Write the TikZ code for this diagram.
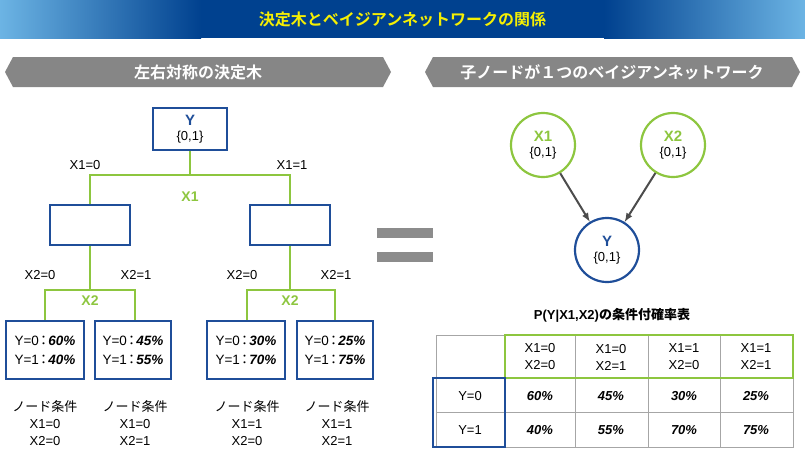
\documentclass[tikz,border=0pt]{standalone}
\usepackage{fontspec}
\setmainfont{Liberation Sans}
\newfontfamily\jp{Noto Sans CJK JP}
\newfontfamily\jpb{Noto Sans CJK JP Bold}
\begin{document}
\begin{tikzpicture}[x=1pt,y=-1pt,
  lab/.style={font=\fontsize{13}{15}\selectfont,inner sep=1pt},
  leaf/.style={bl,minimum width=78pt,minimum height=58pt,align=left,inner sep=2pt,font=\fontsize{13.5}{19}\selectfont},
  cond/.style={align=center,font=\fontsize{13}{17}\selectfont},
  circ/.style={circle,minimum size=64pt,line width=2.2pt,fill=white,align=center,inner sep=0pt,font=\fontsize{13}{15}\selectfont},
  arr/.style={-latex,line width=2pt,draw=black!70},
  cell/.style={align=center,font=\fontsize{13}{17}\selectfont}
]
\definecolor{lgreen}{HTML}{8DC63F}
\definecolor{dblue}{HTML}{1F4E99}
\definecolor{navy}{HTML}{00418F}
\definecolor{sky}{HTML}{6CB4E4}
\tikzset{bl/.style={draw=dblue,line width=2pt},gl/.style={draw=lgreen,line width=2.2pt}}
\useasboundingbox (0,0) rectangle (805,461);
% title
\fill[navy] (150,0) rectangle (655,38);
\shade[left color=sky,right color=navy] (0,0) rectangle (201,38);
\shade[left color=navy,right color=sky] (604,0) rectangle (805,38);
\node[font=\jpb\fontsize{16}{18}\selectfont,text=yellow!85!lime] (title) at (402.5,19) {決定木とベイジアンネットワークの関係};
% section banners
\fill[gray!95] (5,72) -- (13,57) -- (383,57) -- (391,72) -- (383,87) -- (13,87) -- cycle;
\fill[gray!95] (425,72) -- (433,57) -- (792,57) -- (800,72) -- (792,87) -- (433,87) -- cycle;
\node[font=\jpb\fontsize{16}{18}\selectfont,text=white] (s1) at (198,72) {左右対称の決定木};
\node[font=\jpb\fontsize{16}{18}\selectfont,text=white] (s2) at (612,72) {子ノードが１つのベイジアンネットワーク};
% tree lines
\coordinate (t1) at (190,175); \coordinate (t1l) at (90,175); \coordinate (t1r) at (290,175);
\draw[gl] (190,150) -- (t1);
\draw[gl] (t1l |- 0,205) -- (t1l) -- (t1r) -- (t1r |- 0,205);
\draw[gl] (90,245) -- (90,290); \draw[gl] (45,320) -- (45,290) -- (135,290) -- (135,320);
\draw[gl] (290,245) -- (290,290); \draw[gl] (247,320) -- (247,290) -- (335,290) -- (335,320);
\node[bl,minimum width=74pt,minimum height=42pt,align=center,font=\fontsize{13}{15}\selectfont,inner sep=0pt,fill=white] (Y) at (190,129) {\textcolor{dblue}{\textbf{\fontsize{15}{16}\selectfont Y}}\\\{0,1\}};
\node[bl,minimum width=80pt,minimum height=40pt,fill=white] (A) at (90,225) {};
\node[bl,minimum width=80pt,minimum height=40pt,fill=white] (B) at (290,225) {};
\node[lab] (l1) at (85,165) {X1=0};
\node[lab] (l2) at (292,165) {X1=1};
\node[lab,font=\bfseries\fontsize{14}{15}\selectfont,text=lgreen] (l3) at (190,197) {X1};
\node[lab] (l4) at (40,275) {X2=0};
\node[lab] (l5) at (136,275) {X2=1};
\node[lab,font=\bfseries\fontsize{14}{15}\selectfont,text=lgreen] (l6) at (90,301) {X2};
\node[lab] (l7) at (242,275) {X2=0};
\node[lab] (l8) at (336,275) {X2=1};
\node[lab,font=\bfseries\fontsize{14}{15}\selectfont,text=lgreen] (l9) at (290,301) {X2};
\newcommand\lf[2]{Y=0{\jp\kern-2pt：\kern-2pt}\textbf{\textit{#1\%}}\\Y=1{\jp\kern-2pt：\kern-2pt}\textbf{\textit{#2\%}}}
\node[leaf,fill=white] (L1) at (45,350) {\lf{60}{40}};
\node[leaf,fill=white,minimum width=76pt] (L2) at (133,350) {\lf{45}{55}};
\node[leaf,fill=white] (L3) at (246,350) {\lf{30}{70}};
\node[leaf,fill=white,minimum width=76pt] (L4) at (335,350) {\lf{25}{75}};
\node[cond] (c1) at (45,423) {{\jp ノード条件}\\X1=0\\X2=0};
\node[cond] (c2) at (135,423) {{\jp ノード条件}\\X1=0\\X2=1};
\node[cond] (c3) at (247,423) {{\jp ノード条件}\\X1=1\\X2=0};
\node[cond] (c4) at (337,423) {{\jp ノード条件}\\X1=1\\X2=1};
% equals
\fill[gray!90] (377,228) rectangle (433,238);
\fill[gray!90] (377,252) rectangle (433,262);
% BN
\node[circ,draw=lgreen] (X1) at (543,145) {\textcolor{lgreen}{\textbf{\fontsize{15}{16}\selectfont X1}}\\\{0,1\}};
\node[circ,draw=lgreen] (X2) at (673,145) {\textcolor{lgreen}{\textbf{\fontsize{15}{16}\selectfont X2}}\\\{0,1\}};
\node[circ,draw=dblue] (BY) at (607,250) {\textcolor{dblue}{\textbf{\fontsize{15}{16}\selectfont Y}}\\\{0,1\}};
\draw[arr] (X1) -- (BY);
\draw[arr] (X2) -- (BY);
% table
\node[font=\bfseries\fontsize{13}{15}\selectfont] (tt) at (612,315) {P(Y|X1,X2){\jpb の条件付確率表}};
\draw[gray!70,line width=0.8pt] (436,335) rectangle (793,447);
\foreach \x in {505,575,648,720} \draw[gray!70,line width=0.8pt] (\x,335) -- (\x,447);
\foreach \y in {378,412} \draw[gray!70,line width=0.8pt] (436,\y) -- (793,\y);
\draw[gl] (505,335) rectangle (793,378);
\draw[bl] (433,378) rectangle (505,447);
\node[cell] (h1) at (540,357) {X1=0\\X2=0};
\node[cell] (h2) at (611,357) {X1=0\\X2=1};
\node[cell] (h3) at (684,357) {X1=1\\X2=0};
\node[cell] (h4) at (756,357) {X1=1\\X2=1};
\node[cell] (r1) at (470,396) {Y=0};
\node[cell] (r2) at (470,430) {Y=1};
\foreach \v/\x in {60/540,45/611,30/684,25/756} \node[cell,font=\bfseries\itshape\fontsize{13}{15}\selectfont] at (\x,396) {\v\%};
\foreach \v/\x in {40/540,55/611,70/684,75/756} \node[cell,font=\bfseries\itshape\fontsize{13}{15}\selectfont] at (\x,430) {\v\%};
\end{tikzpicture}
\end{document}
